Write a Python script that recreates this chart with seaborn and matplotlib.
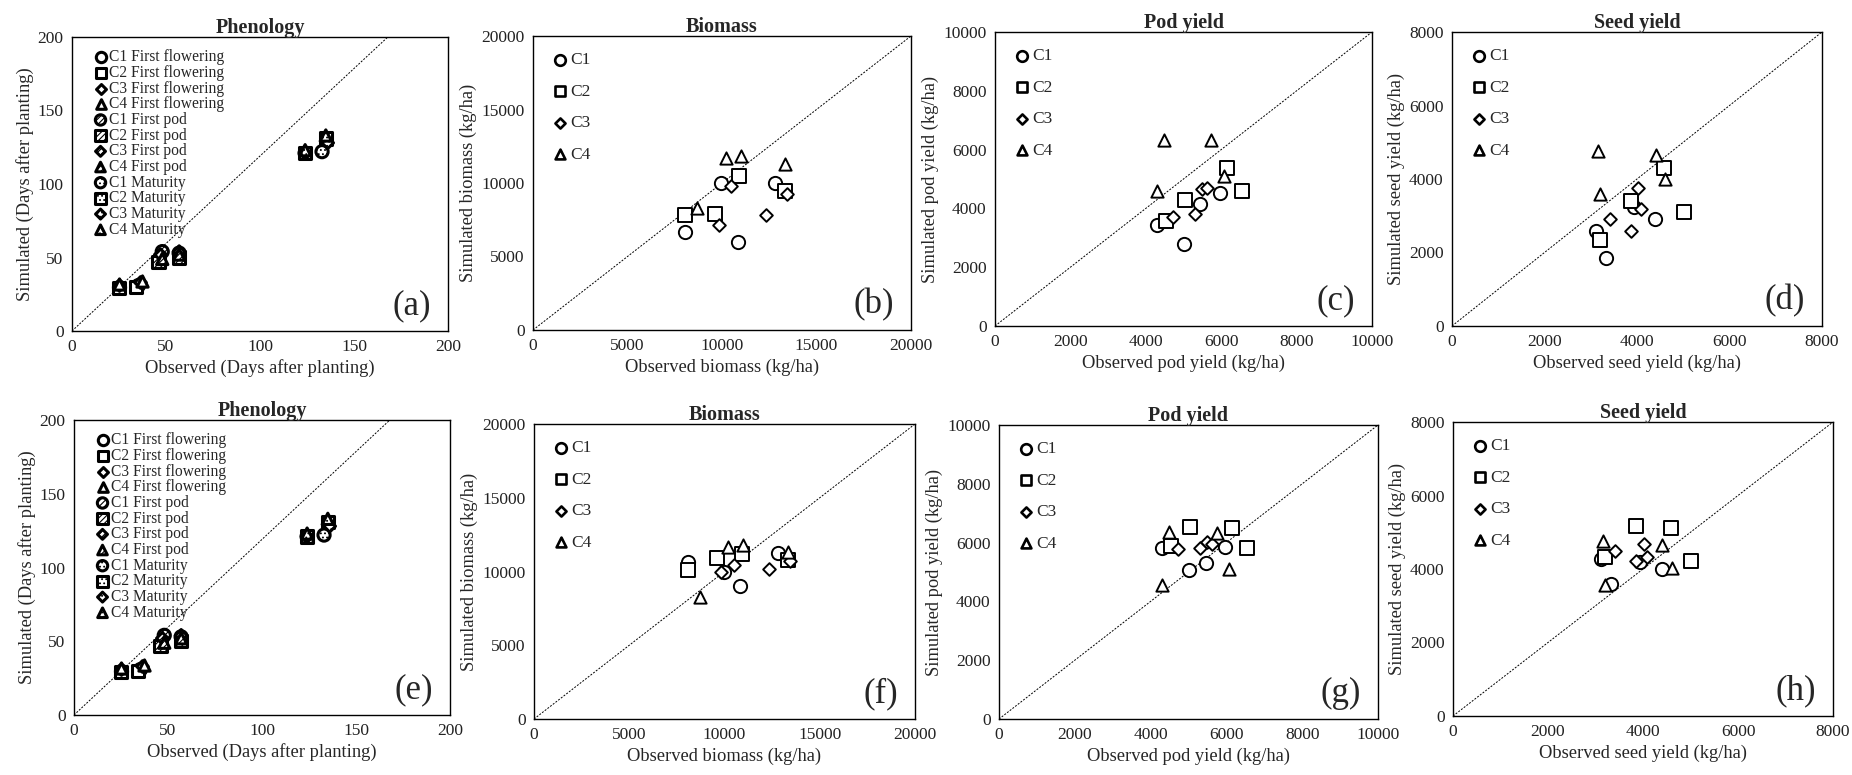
import numpy as np
import pandas as pd
import matplotlib
matplotlib.use("Agg")
import matplotlib.pyplot as plt
import seaborn as sns

# ---------------- data ----------------
cultivars = ["C1", "C2", "C3", "C4"]
stages = ["First flowering", "First pod", "Maturity"]

# Phenology (days after planting), two environments per cultivar
phen_obs = {
    "First flowering": {"C1": [25, 35], "C2": [25, 34], "C3": [25, 36], "C4": [25, 37]},
    "First pod":       {"C1": [48, 57], "C2": [46, 57], "C3": [47, 57], "C4": [48, 57]},
    "Maturity":        {"C1": [124, 133], "C2": [124, 135], "C3": [124, 136], "C4": [124, 135]},
}
phen_sim_top = {
    "First flowering": {"C1": [30, 31], "C2": [29, 30], "C3": [31, 33], "C4": [32, 34]},
    "First pod":       {"C1": [54, 53], "C2": [47, 50], "C3": [52, 54], "C4": [49, 52]},
    "Maturity":        {"C1": [121, 122], "C2": [121, 131], "C3": [121, 128], "C4": [123, 133]},
}
phen_sim_bot = {
    "First flowering": {"C1": [30, 31], "C2": [29, 30], "C3": [31, 33], "C4": [32, 34]},
    "First pod":       {"C1": [54, 53], "C2": [47, 50], "C3": [52, 54], "C4": [49, 52]},
    "Maturity":        {"C1": [121, 122], "C2": [121, 131], "C3": [121, 128], "C4": [123, 133]},
}
# reference line in the phenology panels (as drawn in the original)
phen_line_x = [0, 168]
phen_line_y = [0, 200]

# Biomass (kg/ha)
bio_obs = {"C1": [8060, 9950, 10830, 12810], "C2": [8060, 9610, 10920, 13340],
           "C3": [9840, 10480, 12350, 13430], "C4": [8690, 10190, 10990, 13340]}
bio_sim_top = {"C1": [6640, 10030, 6020, 10030], "C2": [7790, 7860, 10490, 9470],
               "C3": [7110, 9780, 7810, 9240], "C4": [8270, 11710, 11850, 11280]}
bio_sim_bot = {"C1": [10630, 9950, 9030, 11240], "C2": [10070, 10930, 11180, 10770],
               "C3": [10000, 10410, 10180, 10720], "C4": [8280, 11650, 11810, 11290]}

# Pod yield (kg/ha)
pod_obs = {"C1": [4310, 5000, 5450, 5970], "C2": [4530, 5050, 6150, 6550],
           "C3": [4710, 5310, 5500, 5620], "C4": [4310, 4490, 5740, 6080]}
pod_sim_top = {"C1": [3450, 2800, 4160, 4540], "C2": [3560, 4300, 5360, 4590],
               "C3": [3700, 3810, 4660, 4690], "C4": [4580, 6340, 6340, 5090]}
pod_sim_bot = {"C1": [5830, 5080, 5290, 5840], "C2": [5880, 6530, 6500, 5820],
               "C3": [5780, 5820, 6010, 5960], "C4": [4550, 6350, 6320, 5090]}

# Seed yield (kg/ha)
seed_obs = {"C1": [3120, 3320, 3940, 4390], "C2": [3190, 3860, 4580, 5020],
            "C3": [3420, 3860, 4030, 4080], "C4": [3150, 3190, 4400, 4610]}
seed_sim_top = {"C1": [2590, 1840, 3230, 2920], "C2": [2340, 3400, 4310, 3100],
                "C3": [2910, 2590, 3750, 3180], "C4": [4770, 3580, 4660, 4000]}
seed_sim_bot = {"C1": [4260, 3580, 4180, 4000], "C2": [4320, 5170, 5120, 4220],
                "C3": [4480, 4220, 4670, 4340], "C4": [4760, 3570, 4650, 4020]}

panel_letters = ["(a)", "(b)", "(c)", "(d)", "(e)", "(f)", "(g)", "(h)"]
titles = ["Phenology", "Biomass", "Pod yield", "Seed yield"]
xlabels = ["Observed (Days after planting)", "Observed biomass (kg/ha)",
           "Observed pod yield (kg/ha)", "Observed seed yield (kg/ha)"]
ylabels = ["Simulated (Days after planting)", "Simulated biomass (kg/ha)",
           "Simulated pod yield (kg/ha)", "Simulated seed yield (kg/ha)"]
axis_max = [200, 20000, 10000, 8000]
axis_step = [50, 5000, 2000, 2000]

# ---------------- style ----------------
sns.set_theme(style="white")
plt.rcParams["font.family"] = ["Liberation Serif", "DejaVu Serif"]
plt.rcParams["hatch.linewidth"] = 0.8
plt.rcParams["hatch.color"] = "black"

markers = {"C1": "o", "C2": "s", "C3": "D", "C4": "^"}
msize = {"C1": 70, "C2": 70, "C3": 32, "C4": 60}
hatches = {"First flowering": None, "First pod": "//////", "Maturity": "...."}

W, H = 1852, 775
fig = plt.figure(figsize=(W / 100, H / 100), dpi=100)

boxes = [(72, 448, 37, 331), (533, 911, 36, 330), (995, 1372, 32, 326), (1452, 1822, 32, 326),
         (74, 450, 420, 715), (534, 915, 424, 719), (999, 1378, 425, 719), (1453, 1833, 422, 716)]
axes = []
for (l, r, t, b) in boxes:
    axes.append(fig.add_axes([l / W, 1 - b / H, (r - l) / W, (b - t) / H]))


def style_axis(ax, k, letter):
    m = axis_max[k]
    ax.set_xlim(0, m)
    ax.set_ylim(0, m)
    ticks = np.arange(0, m + 1, axis_step[k])
    ax.set_xticks(ticks)
    ax.set_yticks(ticks)
    ax.tick_params(axis="both", length=0, pad=6, labelsize=12.5, colors="#222222")
    for s in ax.spines.values():
        s.set_color("black")
        s.set_linewidth(1.0)
    if k == 0:
        ax.plot(phen_line_x, phen_line_y, color="black", lw=0.7, ls=(0, (2, 1.5)), zorder=1)
    else:
        ax.plot([0, m], [0, m], color="black", lw=0.7, ls=(0, (2, 1.5)), zorder=1)
    ax.set_title(titles[k], fontweight="bold", fontsize=14.5, pad=3)
    ax.set_xlabel(xlabels[k], fontsize=13.3, labelpad=3)
    ax.set_ylabel(ylabels[k], fontsize=13.3, labelpad=3)
    ax.text(0.955, 0.03, letter, transform=ax.transAxes, ha="right", va="bottom",
            fontsize=25)


def phen_panel(ax, sim, letter):
    for st in stages:
        for c in cultivars:
            df = pd.DataFrame({"obs": phen_obs[st][c], "sim": sim[st][c]})
            kw = {}
            if hatches[st] is not None:
                kw["hatch"] = hatches[st]
            sns.scatterplot(data=df, x="obs", y="sim", ax=ax, marker=markers[c],
                            s=msize[c] * 1.1, facecolor="white", edgecolor="black",
                            linewidth=2.2, label=f"{c} {st}", legend=False, zorder=3, **kw)
    style_axis(ax, 0, letter)
    ax.legend(loc="upper left", bbox_to_anchor=(0.02, 0.99), frameon=False,
              fontsize=11.2, labelspacing=-0.02, handletextpad=-0.2,
              handlelength=1.5, borderaxespad=0.2, markerscale=0.85)


def yield_panel(ax, k, obs, sim, letter):
    for c in cultivars:
        df = pd.DataFrame({"obs": obs[c], "sim": sim[c]})
        sns.scatterplot(data=df, x="obs", y="sim", ax=ax, marker=markers[c],
                        s=msize[c] * 1.3, facecolor="white", edgecolor="black",
                        linewidth=1.4, label=c, legend=False, zorder=3)
    style_axis(ax, k, letter)
    leg = ax.legend(loc="upper left", bbox_to_anchor=(0.008, 0.98), frameon=False,
                    fontsize=12.5, labelspacing=0.88, handletextpad=-0.25,
                    handlelength=1.6, borderaxespad=0.2, markerscale=0.8)
    for h in leg.legend_handles:
        h.set_linewidth(1.9)


phen_panel(axes[0], phen_sim_top, panel_letters[0])
yield_panel(axes[1], 1, bio_obs, bio_sim_top, panel_letters[1])
yield_panel(axes[2], 2, pod_obs, pod_sim_top, panel_letters[2])
yield_panel(axes[3], 3, seed_obs, seed_sim_top, panel_letters[3])
phen_panel(axes[4], phen_sim_bot, panel_letters[4])
yield_panel(axes[5], 1, bio_obs, bio_sim_bot, panel_letters[5])
yield_panel(axes[6], 2, pod_obs, pod_sim_bot, panel_letters[6])
yield_panel(axes[7], 3, seed_obs, seed_sim_bot, panel_letters[7])

fig.savefig("out.png", dpi=100, facecolor="white")
